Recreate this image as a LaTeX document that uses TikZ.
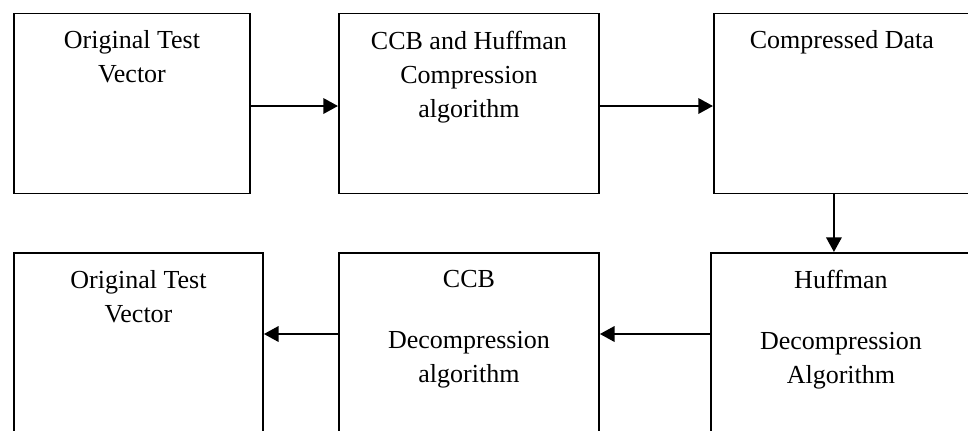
\documentclass[tikz,border=0pt]{standalone}
\usepackage{fontspec}
\setmainfont{Liberation Serif}
\usetikzlibrary{arrows.meta}

\tikzset{
  block/.style 2 args={draw, line width=1.4pt, rectangle, anchor=north west,
    minimum width=#1*0.75pt, minimum height=#2*0.75pt, inner sep=0pt},
  title/.style={anchor=north, align=center, inner sep=0pt,
    font=\fontsize{19.5}{25.5}\selectfont},
  arr/.style={line width=1.8pt, -{Triangle[length=11pt,width=11.5pt]}}
}

\begin{document}
\begin{tikzpicture}[x=0.75pt, y=-0.75pt]
  \useasboundingbox (0,0) rectangle (968,430);
  \clip (0,0) rectangle (968,430);

  % compression row
  \node[block={236}{180}] (b1) at (13,12.5) {};
  \node[block={260}{180}] (b2) at (338,12.5) {};
  \node[block={256}{180}] (b3) at (713,12.5) {};
  \node[title] (t1) at ([yshift=-13.5pt]b1.north) {Original Test\\Vector};
  \node[title] (t2) at ([yshift=-13.5pt]b2.north) {CCB and Huffman\\Compression\\algorithm};
  \node[title] (t3) at ([yshift=-13.5pt]b3.north) {Compressed Data};

  % decompression row
  \node[block={249}{200}] (b4) at (13,252) {};
  \node[block={260}{200}] (b5) at (338,252) {};
  \node[block={260}{200}] (b6) at (710,252) {};
  \node[title] (t4) at ([yshift=-13.5pt]b4.north) {Original Test\\Vector};
  \node[title] (t5) at ([yshift=-13.5pt]b5.north) {CCB\\[20pt]Decompression\\algorithm};
  \node[title] (t6) at ([yshift=-13.5pt]b6.north) {Huffman\\[20pt]Decompression\\Algorithm};

  \coordinate (row1) at (0,106);
  \coordinate (row2) at (0,334);

  \draw[arr] (b1.east |- row1) -- (b2.west |- row1);
  \draw[arr] (b2.east |- row1) -- (b3.west |- row1);
  \draw[arr] ([xshift=-6pt]b3.south) -- ([xshift=-6pt]b3.south |- b6.north);
  \draw[arr] (b6.west |- row2) -- (b5.east |- row2);
  \draw[arr] (b5.west |- row2) -- (b4.east |- row2);
\end{tikzpicture}
\end{document}
